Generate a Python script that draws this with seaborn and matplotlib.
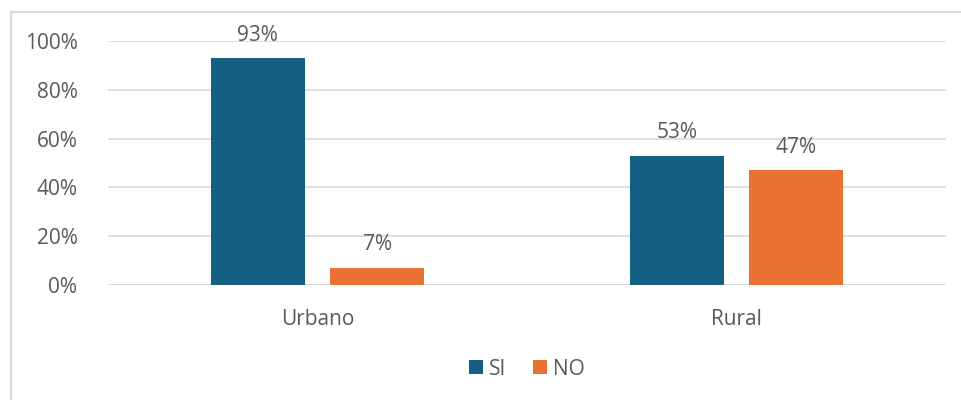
import matplotlib
matplotlib.use("Agg")
import matplotlib.pyplot as plt
from matplotlib.patches import Rectangle
from matplotlib.ticker import FuncFormatter
import pandas as pd
import seaborn as sns

# Data
categories = ["Urbano", "Rural"]
series = ["SI", "NO"]
si_values = [0.93, 0.53]
no_values = [0.07, 0.47]
y_ticks = [0, 0.2, 0.4, 0.6, 0.8, 1.0]

colors = {"SI": "#156082", "NO": "#E97132"}
text_color = "#595959"
grid_color = "#D9D9D9"
fs = 15

df = pd.DataFrame({
    "zona": categories * 2,
    "respuesta": ["SI"] * len(categories) + ["NO"] * len(categories),
    "valor": si_values + no_values,
})

sns.set_theme(style="white")
plt.rcParams["font.family"] = ["Open Sans", "DejaVu Sans"]

fig = plt.figure(figsize=(9.62, 4.0), dpi=100)
ax = fig.add_axes([108 / 962, 1 - 285 / 400, (946 - 108) / 962, (285 - 41) / 400])

sns.barplot(data=df, x="zona", y="valor", hue="respuesta", order=categories,
            hue_order=series, palette=colors, width=0.57, gap=0.21,
            saturation=1, linewidth=0, ax=ax, legend=True)

ax.set_ylim(0, 1.0)
ax.set_xlim(-0.5, 1.5)
ax.set_yticks(y_ticks)
ax.yaxis.set_major_formatter(FuncFormatter(lambda v, _: f"{v * 100:.0f}%"))
ax.yaxis.grid(True, color=grid_color, linewidth=1.2)
ax.set_axisbelow(True)
for s in ax.spines.values():
    s.set_visible(False)
ax.axhline(0, color=grid_color, linewidth=1.2, zorder=0.5)
ax.tick_params(axis="both", length=0, labelsize=fs, colors=text_color)
ax.tick_params(axis="y", pad=22)
ax.tick_params(axis="x", pad=17)
ax.set_xlabel("")
ax.set_ylabel("")

# Value labels above bars
for container in ax.containers:
    ax.bar_label(container, labels=[f"{b.get_height() * 100:.0f}%" for b in container],
                 padding=9, fontsize=fs, color=text_color)

leg = ax.legend(loc="center", bbox_to_anchor=(0.5, -0.345), ncol=2, frameon=False,
                fontsize=fs, handlelength=0.65, handleheight=0.65,
                handletextpad=0.3, columnspacing=1.3)
for t in leg.get_texts():
    t.set_color(text_color)

# Chart frame
fig.patches.append(Rectangle((11 / 962, -0.1), 1.2, 1.1 - 12 / 400, transform=fig.transFigure,
                             fill=False, edgecolor=grid_color, linewidth=1.5))

fig.savefig("out.png", dpi=100, facecolor="white")
